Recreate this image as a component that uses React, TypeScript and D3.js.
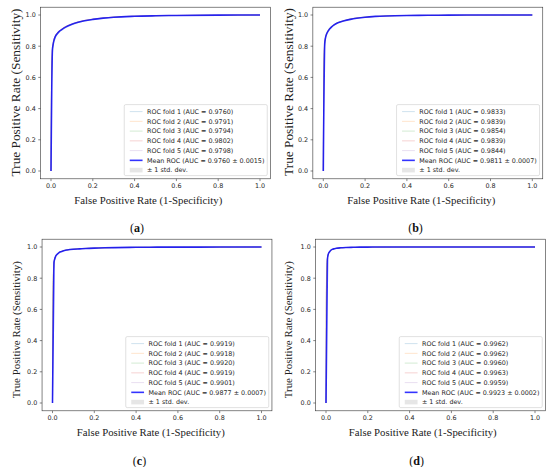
import React from "react";
import * as d3 from "d3";

// ---------- DATA ----------
const PANEL_LABELS = ["a", "b", "c", "d"];
const X_TICKS = [0, 0.2, 0.4, 0.6, 0.8, 1.0];
const Y_TICKS = [0, 0.2, 0.4, 0.6, 0.8, 1.0];

// mean ROC grid (false positive rate)
const MEAN_FPR = [0, 0.007, 0.01, 0.015, 0.02, 0.03, 0.04, 0.05, 0.07, 0.1, 0.13, 0.16, 0.2, 0.25, 0.3, 0.4, 0.5, 0.6, 0.8, 1.0];
const MEAN_TPR_A = [0, 0.78, 0.81, 0.84, 0.86, 0.88, 0.895, 0.905, 0.922, 0.94, 0.953, 0.963, 0.972, 0.98, 0.986, 0.992, 0.995, 0.997, 0.999, 1.0];
const MEAN_TPR_B = [0, 0.82, 0.85, 0.875, 0.89, 0.91, 0.924, 0.935, 0.95, 0.963, 0.972, 0.979, 0.986, 0.991, 0.994, 0.997, 0.998, 0.999, 1.0, 1.0];
const MEAN_TPR_C = [0, 0.9, 0.92, 0.94, 0.95, 0.963, 0.97, 0.975, 0.981, 0.986, 0.988, 0.99, 0.993, 0.995, 0.996, 0.998, 0.999, 0.999, 1.0, 1.0];
const MEAN_TPR_D = [0, 0.92, 0.95, 0.965, 0.975, 0.985, 0.989, 0.992, 0.995, 0.997, 0.998, 0.999, 0.9995, 1.0, 1.0, 1.0, 1.0, 1.0, 1.0, 1.0];

// per-fold ROC grid
const FOLD_FPR = [0, 0.002, 0.005, 0.01, 0.02, 0.05, 0.1, 0.2, 0.4, 0.7, 1];
const FOLDS_A = [
  [0, 0.45, 0.7, 0.79, 0.85, 0.9, 0.936, 0.97, 0.991, 0.998, 1],
  [0, 0.5, 0.74, 0.81, 0.86, 0.906, 0.94, 0.972, 0.992, 0.998, 1],
  [0, 0.48, 0.73, 0.815, 0.862, 0.907, 0.941, 0.973, 0.992, 0.998, 1],
  [0, 0.52, 0.75, 0.82, 0.865, 0.91, 0.943, 0.974, 0.993, 0.999, 1],
  [0, 0.5, 0.74, 0.815, 0.863, 0.908, 0.942, 0.973, 0.992, 0.998, 1],
];
const FOLDS_B = [
  [0, 0.5, 0.76, 0.84, 0.885, 0.932, 0.961, 0.985, 0.996, 0.999, 1],
  [0, 0.6, 0.8, 0.85, 0.89, 0.935, 0.963, 0.986, 0.997, 0.999, 1],
  [0, 0.55, 0.79, 0.855, 0.895, 0.938, 0.965, 0.987, 0.997, 0.999, 1],
  [0, 0.52, 0.78, 0.85, 0.89, 0.935, 0.963, 0.986, 0.997, 0.999, 1],
  [0, 0.54, 0.78, 0.852, 0.892, 0.936, 0.964, 0.986, 0.997, 0.999, 1],
];
const FOLDS_C = [
  [0, 0.6, 0.85, 0.92, 0.95, 0.975, 0.986, 0.993, 0.998, 0.999, 1],
  [0, 0.62, 0.86, 0.92, 0.95, 0.975, 0.986, 0.993, 0.998, 0.999, 1],
  [0, 0.64, 0.86, 0.922, 0.951, 0.976, 0.987, 0.993, 0.998, 0.999, 1],
  [0, 0.6, 0.85, 0.92, 0.95, 0.975, 0.986, 0.993, 0.998, 0.999, 1],
  [0, 0.58, 0.84, 0.915, 0.947, 0.973, 0.985, 0.992, 0.997, 0.999, 1],
];
const FOLDS_D = [
  [0, 0.7, 0.9, 0.95, 0.975, 0.992, 0.997, 0.999, 1, 1, 1],
  [0, 0.78, 0.91, 0.95, 0.975, 0.992, 0.997, 0.999, 1, 1, 1],
  [0, 0.72, 0.9, 0.948, 0.974, 0.991, 0.997, 0.999, 1, 1, 1],
  [0, 0.74, 0.905, 0.951, 0.976, 0.992, 0.997, 0.999, 1, 1, 1],
  [0, 0.7, 0.9, 0.949, 0.974, 0.991, 0.997, 0.999, 1, 1, 1],
];

// legend AUC values
const FOLD_AUC_A = [0.976, 0.9791, 0.9794, 0.9802, 0.9798];
const FOLD_AUC_B = [0.9833, 0.9839, 0.9854, 0.9839, 0.9844];
const FOLD_AUC_C = [0.9919, 0.9918, 0.992, 0.9919, 0.9901];
const FOLD_AUC_D = [0.9962, 0.9962, 0.996, 0.9963, 0.9959];
const MEAN_AUC = [0.976, 0.9811, 0.9877, 0.9923];
const STD_AUC = [0.0015, 0.0007, 0.0007, 0.0002];

const X_TITLE = "False Positive Rate (1-Specificity)";
const Y_TITLE = "True Positive Rate (Sensitivity)";

// ---------- LAYOUT ----------
const FOLD_COLORS = ["#1f77b4", "#ff7f0e", "#2ca02c", "#d62728", "#9467bd"];
const UNIT_X = 209;
const UNIT_Y = 156;
const LAYOUT = [
  { x0: 51, y0: 171, xtX: 148.3, xtY: 203.5, ytX: 15, ytY: 92.5, ytLen: 168, lblX: 137, lblY: 232 },
  { x0: 323.3, y0: 171, xtX: 421.3, xtY: 203.5, ytX: 288.3, ytY: 92, ytLen: 168, lblX: 415.5, lblY: 232 },
  { x0: 52.5, y0: 403, xtX: 150.8, xtY: 435.5, ytX: 16, ytY: 329.7, ytLen: 137, lblX: 139.5, lblY: 465 },
  { x0: 326, y0: 403, xtX: 422.7, xtY: 435.5, ytX: 288.3, ytY: 329.7, ytLen: 137, lblX: 416.7, lblY: 465 },
];

const MEANS = [MEAN_TPR_A, MEAN_TPR_B, MEAN_TPR_C, MEAN_TPR_D];
const FOLDS = [FOLDS_A, FOLDS_B, FOLDS_C, FOLDS_D];
const FOLD_AUCS = [FOLD_AUC_A, FOLD_AUC_B, FOLD_AUC_C, FOLD_AUC_D];

const f4 = d3.format(".4f");
const f1 = d3.format(".1f");
const SANS = "'DejaVu Sans', sans-serif";
const SERIF = "'Liberation Serif', 'Times New Roman', serif";

function Panel({ i }: { i: number }) {
  const L = LAYOUT[i];
  const x = d3.scaleLinear().domain([-0.05, 1.05]).range([L.x0 - 0.05 * UNIT_X, L.x0 + 1.05 * UNIT_X]);
  const y = d3.scaleLinear().domain([-0.05, 1.05]).range([L.y0 + 0.05 * UNIT_Y, L.y0 - 1.05 * UNIT_Y]);
  const [fl, fr] = x.range();
  const [fb, ft] = y.range();

  const line = d3
    .line<number>()
    .x((_, k) => x(MEAN_FPR[k]))
    .y((d) => y(d))
    .curve(d3.curveMonotoneX);
  const foldLine = d3
    .line<number>()
    .x((_, k) => x(FOLD_FPR[k]))
    .y((d) => y(d))
    .curve(d3.curveMonotoneX);

  const folds = FOLDS[i];
  const bandData = FOLD_FPR.map((fx, k) => {
    const vals = folds.map((f) => f[k]);
    const m = d3.mean(vals) as number;
    const s = (d3.deviation(vals) as number) || 0;
    return { fx, lo: Math.max(m - s, 0), hi: Math.min(m + s, 1) };
  });
  const band = d3
    .area<{ fx: number; lo: number; hi: number }>()
    .x((d) => x(d.fx))
    .y0((d) => y(d.lo))
    .y1((d) => y(d.hi))
    .curve(d3.curveMonotoneX);

  // legend
  const legW = 143;
  const legH = 71;
  const legR = fr - 3.2;
  const legB = fb - 3.2;
  const legL = legR - legW;
  const legT = legB - legH;
  const rowY = (r: number) => legT + 7 + r * 9.75;
  const labels = [
    ...FOLD_AUCS[i].map((a, k) => `ROC fold ${k + 1} (AUC = ${f4(a)})`),
    `Mean ROC (AUC = ${f4(MEAN_AUC[i])} \u00b1 ${f4(STD_AUC[i])})`,
    `\u00b1 1 std. dev.`,
  ];
  const clipId = `clip-${i}`;

  return (
    <g>
      <defs>
        <clipPath id={clipId}>
          <rect x={fl} y={ft} width={fr - fl} height={fb - ft} />
        </clipPath>
      </defs>
      <g clipPath={`url(#${clipId})`}>
        <path d={band(bandData) || ""} fill="#808080" fillOpacity={0.2} stroke="none" />
        {folds.map((f, k) => (
          <path key={k} d={foldLine(f) || ""} fill="none" stroke={FOLD_COLORS[k]} strokeOpacity={0.3} strokeWidth={0.7} />
        ))}
        <path d={line(MEANS[i]) || ""} fill="none" stroke="#0000ff" strokeOpacity={0.8} strokeWidth={1.6} strokeLinejoin="round" />
      </g>
      <rect x={fl} y={ft} width={fr - fl} height={fb - ft} fill="none" stroke="#333" strokeWidth={0.6} />
      {X_TICKS.map((t) => (
        <g key={"x" + t}>
          <line x1={x(t)} x2={x(t)} y1={fb} y2={fb + 2.3} stroke="#333" strokeWidth={0.6} />
          <text x={x(t)} y={fb + 9.6} fontSize={6.4} fontFamily={SANS} fill="#262626" textAnchor="middle">
            {f1(t)}
          </text>
        </g>
      ))}
      {Y_TICKS.map((t) => (
        <g key={"y" + t}>
          <line x1={fl - 2.3} x2={fl} y1={y(t)} y2={y(t)} stroke="#333" strokeWidth={0.6} />
          <text x={fl - 4.8} y={y(t) + 2.3} fontSize={6.4} fontFamily={SANS} fill="#262626" textAnchor="end">
            {f1(t)}
          </text>
        </g>
      ))}
      {/* legend */}
      <rect x={legL} y={legT} width={legW} height={legH} rx={1.5} fill="#fff" fillOpacity={0.8} stroke="#cccccc" strokeWidth={0.6} />
      {labels.map((lab, r) => {
        const cy = rowY(r);
        let handle;
        if (r < 5) {
          handle = <line x1={legL + 5.5} x2={legL + 18.3} y1={cy} y2={cy} stroke={FOLD_COLORS[r]} strokeOpacity={0.3} strokeWidth={0.7} />;
        } else if (r === 5) {
          handle = <line x1={legL + 5.5} x2={legL + 18.3} y1={cy} y2={cy} stroke="#0000ff" strokeOpacity={0.8} strokeWidth={1.6} />;
        } else {
          handle = <rect x={legL + 5.5} y={cy - 2.3} width={12.8} height={4.6} fill="#808080" fillOpacity={0.2} />;
        }
        return (
          <g key={r}>
            {handle}
            <text x={legL + 22.7} y={cy + 2.3} fontSize={6.4} fontFamily={SANS} fill="#262626">
              {lab}
            </text>
          </g>
        );
      })}
      {/* axis titles */}
      <text x={L.xtX} y={L.xtY} fontSize={11} fontFamily={SERIF} fill="#222" textAnchor="middle" textLength={148} lengthAdjust="spacingAndGlyphs">
        {X_TITLE}
      </text>
      <text
        transform={`translate(${L.ytX},${L.ytY}) rotate(-90)`}
        fontSize={L.ytLen > 150 ? 13 : 11}
        fontFamily={SERIF}
        fill="#222"
        textAnchor="middle"
        dy="0.35em"
        textLength={L.ytLen}
        lengthAdjust="spacingAndGlyphs"
      >
        {Y_TITLE}
      </text>
      <text x={L.lblX} y={L.lblY} fontSize={12} fontFamily={SERIF} fill="#111" textAnchor="middle">
        (<tspan fontWeight="bold">{PANEL_LABELS[i]}</tspan>)
      </text>
    </g>
  );
}

export default function App() {
  return (
    <svg width={550} height={467} style={{ position: "absolute", left: 0, top: 0, background: "#fff" }}>
      <rect width={550} height={467} fill="#fff" />
      {[0, 1, 2, 3].map((i) => (
        <Panel key={i} i={i} />
      ))}
    </svg>
  );
}
